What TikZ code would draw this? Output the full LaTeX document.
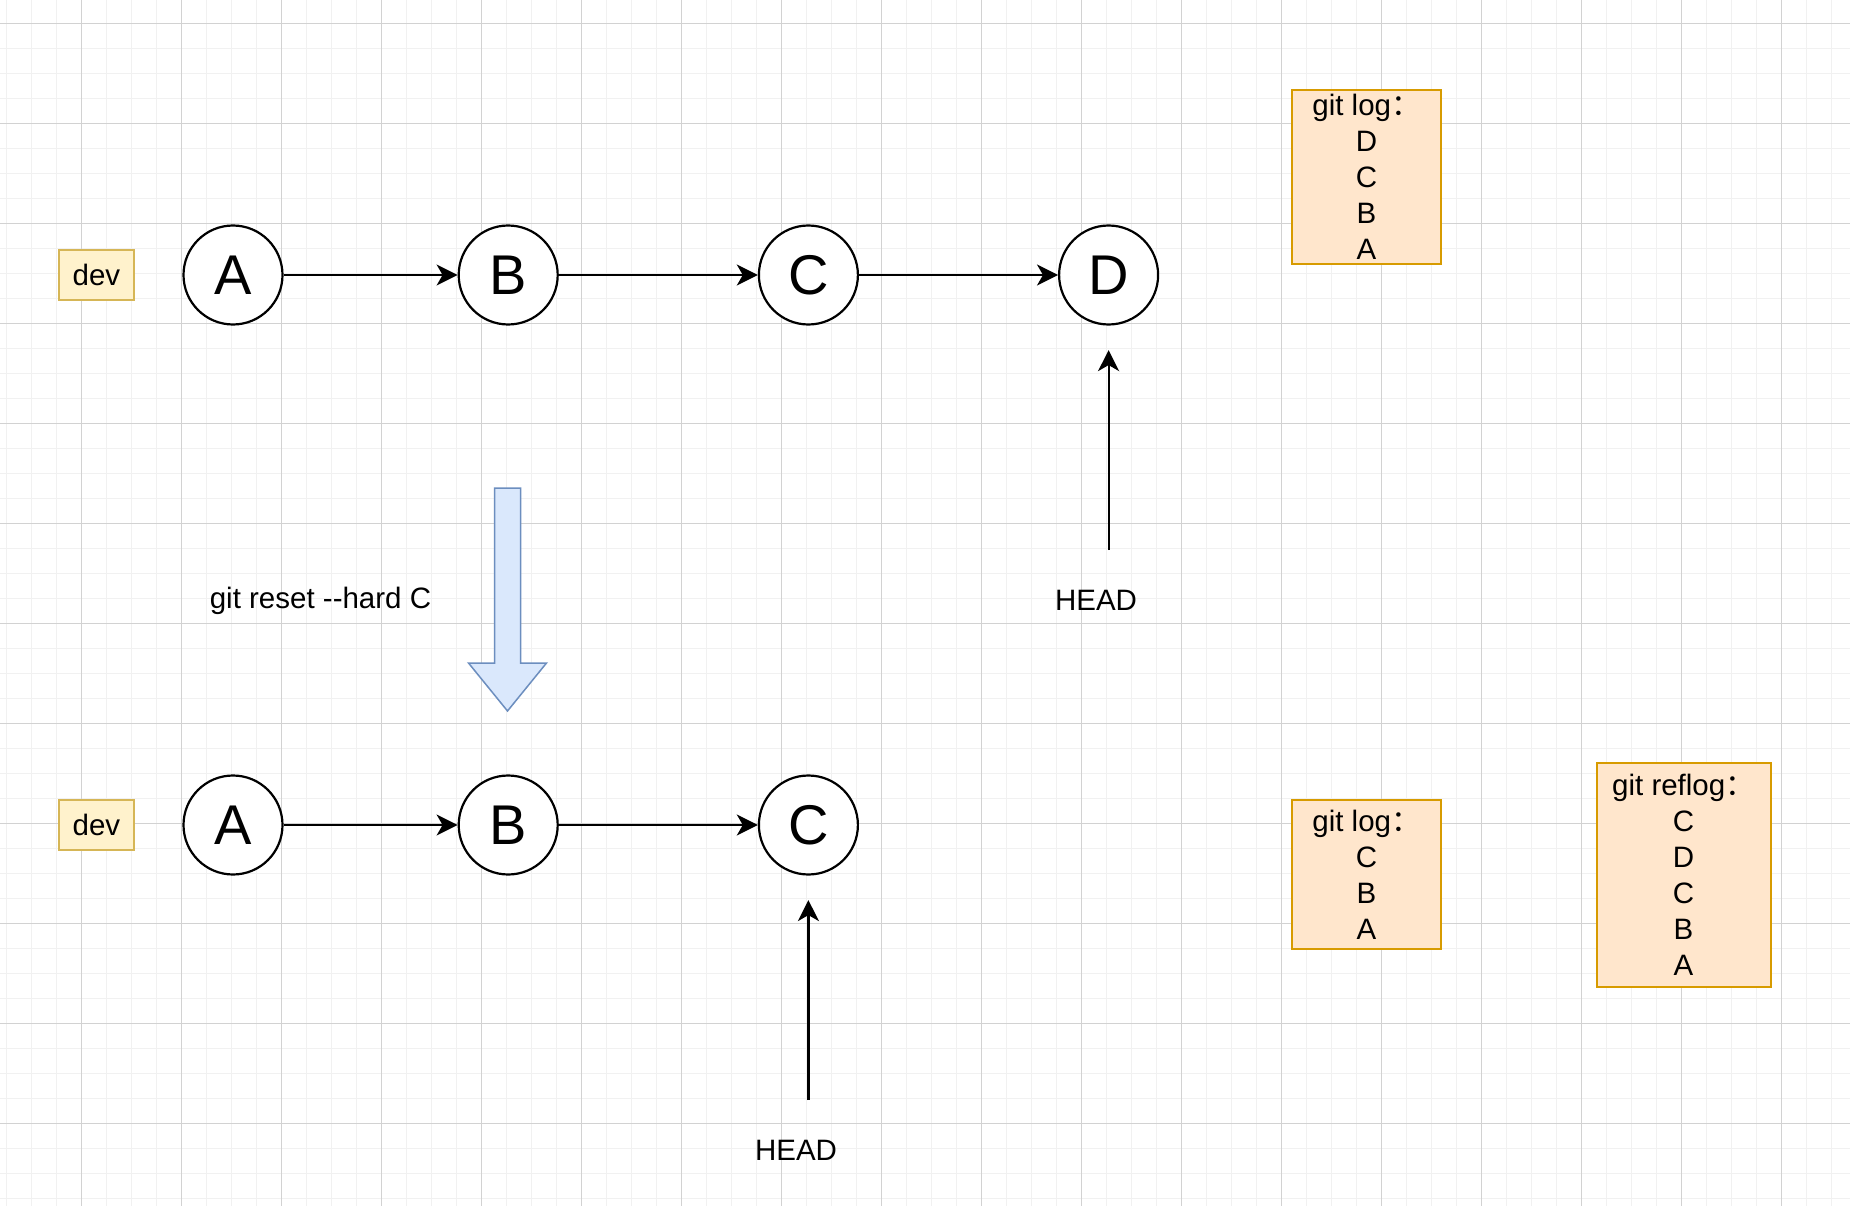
\documentclass[tikz,border=0pt]{standalone}
\usepackage{fontspec}
\setmainfont{Liberation Sans}
\newfontfamily\cjk{Noto Sans CJK SC}
\usetikzlibrary{arrows.meta,positioning}

\definecolor{minorcol}{HTML}{F1F1F1}
\definecolor{majorcol}{HTML}{D2D2D2}
\definecolor{devfill}{HTML}{FFF2CC}
\definecolor{devline}{HTML}{D6B656}
\definecolor{logfill}{HTML}{FFE6CC}
\definecolor{logline}{HTML}{D79B00}
\definecolor{resetfill}{HTML}{DAE8FC}
\definecolor{resetline}{HTML}{6C8EBF}

\begin{document}
\begin{tikzpicture}[x=1pt, y=-1pt,
  commit/.style={draw, circle, line width=2.2pt, minimum size=99pt, inner sep=0pt, fill=white, font=\fontsize{56}{60}\selectfont},
  branch/.style={draw=devline, fill=devfill, line width=2pt, minimum width=75pt, minimum height=50pt, inner sep=0pt, font=\fontsize{29.5}{36}\selectfont},
  logbox/.style={draw=logline, fill=logfill, line width=2pt, align=center, inner sep=0pt, font=\fontsize{29.5}{36}\selectfont},
  note/.style={font=\fontsize{29.5}{36}\selectfont},
  arr/.style={-{Stealth[length=21pt,width=21pt,inset=6pt]}, line width=2.2pt},
  bigarr/.style={draw=resetline, fill=resetfill, line width=1.5pt, line join=miter}
]

\useasboundingbox (0,0) rectangle (1850,1206);
\fill[white] (0,0) rectangle (1850,1206);

% background grid
\foreach \gx in {6.5,31.5,...,1850} {\draw[minorcol, line width=1.5pt] (\gx,0) -- (\gx,1206);}
\foreach \gy in {23.5,48.5,...,1206} {\draw[minorcol, line width=1.5pt] (0,\gy) -- (1850,\gy);}
\foreach \gx in {81.5,181.5,...,1850} {\draw[majorcol, line width=1pt] (\gx,0) -- (\gx,1206);}
\foreach \gy in {23.5,123.5,...,1206} {\draw[majorcol, line width=1pt] (0,\gy) -- (1850,\gy);}

% before the reset
\node[commit] (A) at (233,275) {A};
\node[commit, right=174pt of A] (B) {B};
\node[commit, right=199pt of B] (C) {C};
\node[commit, right=199pt of C] (D) {D};
\node[branch, left=47.5pt of A] (dev) {dev};

\draw[arr] (A) -- (B);
\draw[arr] (B) -- (C);
\draw[arr] (C) -- (D);

\node[note] (headD) at (1096,600) {HEAD};
\coordinate (tailD) at (D |- 0,550);
\draw[arr] (tailD) -- ([yshift=-24.5pt]D.south);

\node[logbox, minimum width=149pt, minimum height=174pt] (logTop) at (1366.5,177) {git log{\cjk ：}\\D\\C\\B\\A};

% reset step
\draw[bigarr] (494.5,488) -- (520.5,488) -- (520.5,663) -- (546.5,663) -- (507.5,711) -- (468.5,663) -- (494.5,663) -- cycle;
\node[note] (cmd) at (320.5,601) {git reset -{}-hard C};

% after the reset
\node[commit] (A2) at (233,825) {A};
\node[commit, right=174pt of A2] (B2) {B};
\node[commit, right=199pt of B2] (C2) {C};
\node[branch, left=47.5pt of A2] (dev2) {dev};

\draw[arr] (A2) -- (B2);
\draw[arr] (B2) -- (C2);

\node[note] (headC) at (796,1150) {HEAD};
\coordinate (tailC) at (C2 |- 0,1100);
\draw[arr] (tailC) -- ([yshift=-24.5pt]C2.south);

\node[logbox, minimum width=149pt, minimum height=149pt] (logBot) at (1366.5,874.5) {git log{\cjk ：}\\C\\B\\A};
\node[logbox, minimum width=174pt, minimum height=223.5pt] (reflog) at (1683.5,875) {git reflog{\cjk ：}\\C\\D\\C\\B\\A};

\end{tikzpicture}
\end{document}
